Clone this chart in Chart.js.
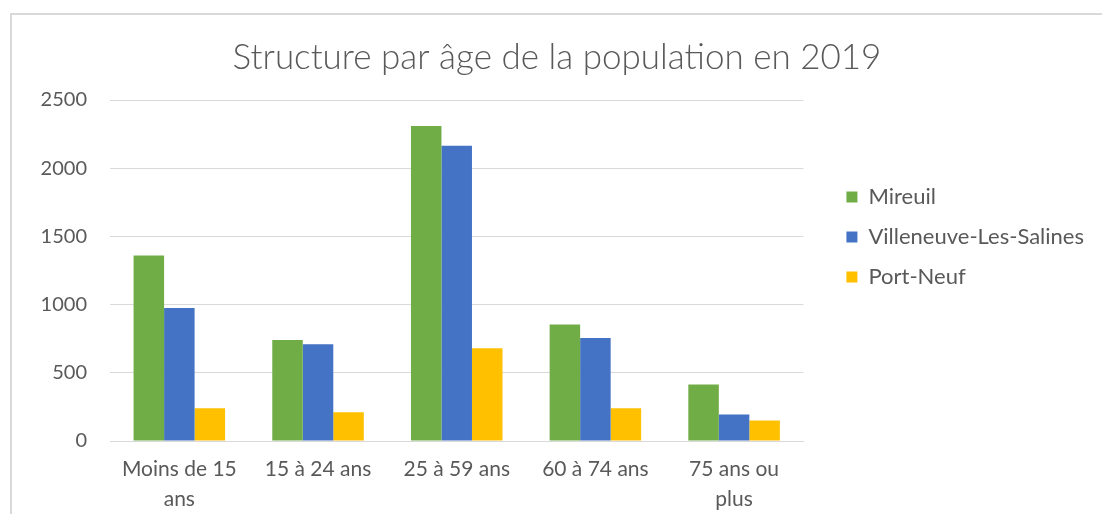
<!DOCTYPE html>
<html>
<head>
<meta charset="utf-8">
<script src="https://cdn.jsdelivr.net/npm/chart.js@4.4.1/dist/chart.umd.min.js"></script>
<style>
  body { margin: 0; background: #fff; }
  #frame { position: absolute; left: 10px; top: 13px; width: 1200px; height: 600px; border-top: 2px solid #d9d9d9; border-left: 2px solid #d9d9d9; }
  #wrap { position: absolute; left: 0; top: 0; width: 1102px; height: 514px; }
</style>
</head>
<body>
<div id="frame"></div>
<div id="wrap"><canvas id="ageChart"></canvas></div>
<script>
    // tranches d'âge
    var categories = [['Moins de 15', 'ans'], '15 à 24 ans', '25 à 59 ans', '60 à 74 ans', ['75 ans ou', 'plus']];
    var mireuil = [1360, 740, 2310, 855, 415];
    var villeneuve = [975, 710, 2165, 755, 195];
    var portNeuf = [240, 210, 680, 240, 150];
    var yTicks = [0, 500, 1000, 1500, 2000, 2500];

    var grey = '#595959';
    var fontFam = 'Lato, "Open Sans", sans-serif';

    var ctx = document.getElementById('ageChart').getContext('2d');
    var myChart = new Chart(ctx, {
        type: 'bar',
        data: {
            labels: categories,
            datasets: [
                { label: 'Mireuil', data: mireuil, backgroundColor: '#70AD47' },
                { label: 'Villeneuve-Les-Salines', data: villeneuve, backgroundColor: '#4472C4' },
                { label: 'Port-Neuf', data: portNeuf, backgroundColor: '#FFC000' }
            ]
        },
        options: {
            responsive: true,
            maintainAspectRatio: false,
            animation: false,
            layout: { padding: { left: 20, right: 8, top: 0, bottom: 0 } },
            datasets: { bar: { categoryPercentage: 0.66, barPercentage: 1.0 } },
            plugins: {
                title: {
                    display: true,
                    text: 'Structure par âge de la population en 2019',
                    color: grey,
                    font: { family: fontFam, size: 35, weight: '300' },
                    padding: { top: 37, bottom: 21 }
                },
                legend: {
                    position: 'right',
                    align: 'start',
                    maxWidth: 400,
                    // empty title used as top spacer
                    title: { display: true, text: '', font: { size: 10, lineHeight: 1 }, padding: { top: 158, bottom: 0 } },
                    labels: {
                        color: grey,
                        font: { family: fontFam, size: 22 },
                        boxWidth: 11,
                        boxHeight: 11,
                        padding: 18
                    }
                },
                tooltip: { enabled: false }
            },
            scales: {
                x: {
                    grid: { display: false },
                    border: { color: '#d9d9d9' },
                    ticks: { color: grey, font: { family: fontFam, size: 21, lineHeight: 1.4 }, padding: 6, maxRotation: 0, autoSkip: false },
                    afterFit: function (s) { s.height = 73; }
                },
                y: {
                    min: 0,
                    max: 2500,
                    afterBuildTicks: function (s) { s.ticks = yTicks.map(function (v) { return { value: v }; }); },
                    grid: { color: '#d9d9d9', drawTicks: false },
                    border: { display: false },
                    ticks: { color: grey, font: { family: fontFam, size: 20 }, padding: 23, callback: function (v) { return String(v); } },
                    afterFit: function (s) { s.width = 90; }
                },
                gap: {
                    position: 'right',
                    display: true,
                    grid: { display: false },
                    border: { display: false },
                    ticks: { display: false },
                    afterFit: function (s) { s.width = 25; }
                }
            }
        }
    });
</script>
</body>
</html>
